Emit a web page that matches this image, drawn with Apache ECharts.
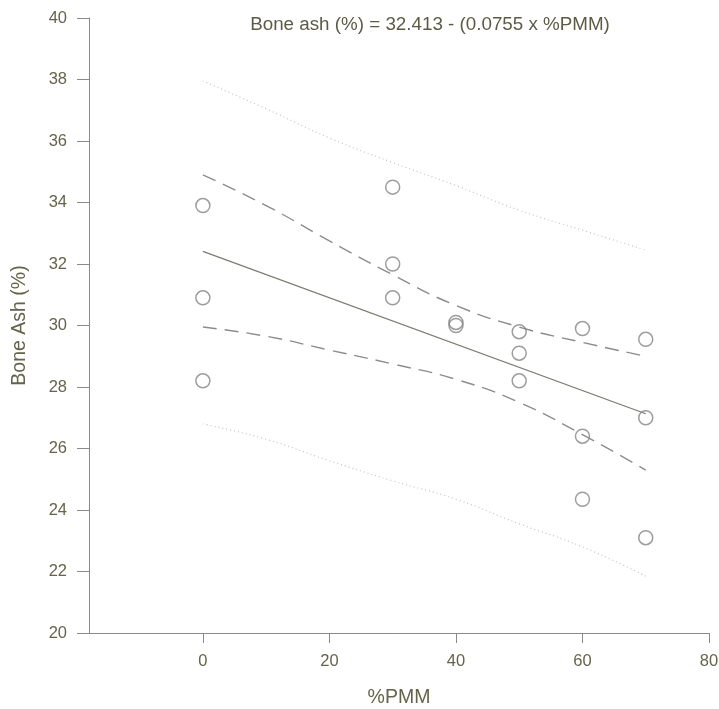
<!DOCTYPE html>
<html>
<head>
<meta charset="utf-8">
<script src="https://cdn.jsdelivr.net/npm/echarts@6/dist/echarts.min.js"></script>
<style>html,body{margin:0;padding:0;background:#fff}#c{width:719px;height:709px}</style>
</head>
<body>
<div id="c"></div>
<script>
// Observed points
var pointX = [0, 0, 0, 30, 30, 30, 40, 40, 50, 50, 50, 60, 60, 60, 70, 70, 70];
var pointY = [33.9, 30.9, 28.2, 34.5, 32.0, 30.9, 30.1, 30.0, 29.8, 29.1, 28.2, 29.9, 26.4, 24.35, 29.55, 27.0, 23.1];
// Regression line ends
var fitX = [0, 70];
var fitY = [32.41, 27.13];
// Band sample positions
var bandX = [0, 10, 20, 30, 40, 50, 60, 70];
var confUpper = [34.9, 33.9, 32.75, 31.65, 30.65, 29.95, 29.45, 29.0];
var confLower = [29.95, 29.65, 29.2, 28.75, 28.25, 27.5, 26.45, 25.3];
var predUpper = [37.95, 37.05, 36.1, 35.3, 34.55, 33.75, 33.1, 32.45];
var predLower = [26.8, 26.3, 25.6, 24.95, 24.35, 23.55, 22.8, 21.85];
var xTicks = [0, 20, 40, 60, 80];
var titleText = 'Bone ash (%) = 32.413 - (0.0755 x %PMM)';
var xName = '%PMM';
var yName = 'Bone Ash (%)';

function pairs(xs, ys) { return xs.map(function (x, i) { return [x, ys[i]]; }); }

var textColor = '#64644a';
var axisColor = '#8a8a8a';
var font = 'Liberation Sans, Arial, sans-serif';
var chart = echarts.init(document.getElementById('c'));
chart.setOption({
  animation: false,
  backgroundColor: '#fff',
  textStyle: { fontFamily: font },
  title: {
    text: titleText, left: 425, top: 10, textAlign: 'center',
    textStyle: { fontSize: 18.8, fontWeight: 'normal', color: '#5c5c46', fontFamily: font }
  },
  grid: { left: 89, right: 10, top: 18, bottom: 76, containLabel: false, outerBoundsMode: 'none' },
  xAxis: {
    type: 'value', min: -18, max: 80,
    name: xName, nameLocation: 'middle', nameGap: 55,
    nameTextStyle: { fontSize: 19.5, color: textColor, fontFamily: font },
    axisLine: { show: true, onZero: false, lineStyle: { color: axisColor, width: 1 } },
    axisTick: { show: true, length: 10, customValues: xTicks, lineStyle: { color: axisColor } },
    axisLabel: { customValues: xTicks, margin: 20, fontSize: 16.5, color: textColor, fontFamily: font },
    splitLine: { show: false }
  },
  yAxis: {
    type: 'value', min: 20, max: 40, interval: 2,
    name: yName, nameLocation: 'middle', nameGap: 59, nameRotate: 90,
    nameTextStyle: { fontSize: 19.5, color: textColor, fontFamily: font },
    axisLine: { show: true, onZero: false, lineStyle: { color: axisColor, width: 1 } },
    axisTick: { show: true, length: 12, lineStyle: { color: axisColor } },
    axisLabel: { margin: 22, fontSize: 16.5, color: textColor, fontFamily: font },
    splitLine: { show: false }
  },
  series: [
    { type: 'line', data: pairs(bandX, predUpper), smooth: true, symbol: 'none', z: 1,
      lineStyle: { color: '#c4c4c4', width: 1.2, type: [1, 3] } },
    { type: 'line', data: pairs(bandX, predLower), smooth: true, symbol: 'none', z: 1,
      lineStyle: { color: '#c4c4c4', width: 1.2, type: [1, 3] } },
    { type: 'line', data: pairs(bandX, confUpper), smooth: true, symbol: 'none', z: 2,
      lineStyle: { color: '#8c8c8c', width: 1.4, type: [14, 8] } },
    { type: 'line', data: pairs(bandX, confLower), smooth: true, symbol: 'none', z: 2,
      lineStyle: { color: '#8c8c8c', width: 1.4, type: [14, 8] } },
    { type: 'line', data: pairs(fitX, fitY), symbol: 'none', z: 3,
      lineStyle: { color: '#7c7c72', width: 1.3 } },
    { type: 'scatter', data: pairs(pointX, pointY), symbol: 'circle', symbolSize: 14, z: 4,
      itemStyle: { color: 'rgba(255,255,255,0)', borderColor: '#858585', borderWidth: 1.5 } }
  ]
});
</script>
</body>
</html>
